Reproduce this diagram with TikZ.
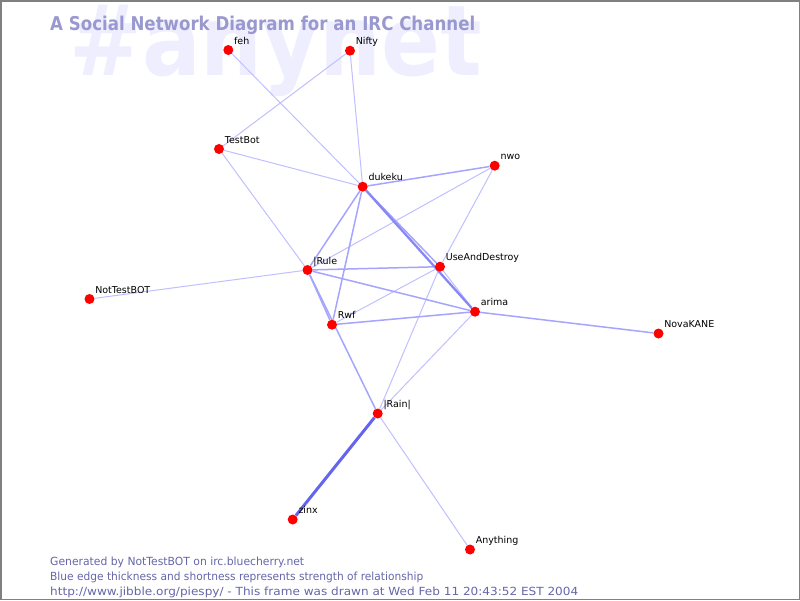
\documentclass[tikz,border=0pt]{standalone}
\usepackage{fontspec}
\setmainfont{DejaVu Sans}
\usepackage{graphicx}
\usetikzlibrary{backgrounds}
\definecolor{wm}{RGB}{238,238,255}
\definecolor{titlec}{RGB}{153,153,208}
\definecolor{footc}{RGB}{102,102,170}
\definecolor{edgeL}{RGB}{192,192,255}
\definecolor{edgeM}{RGB}{165,165,255}
\definecolor{edgeT}{RGB}{135,135,245}
\definecolor{edgeZ}{RGB}{100,100,238}
\definecolor{framec}{RGB}{128,128,128}
\tikzset{
  dot/.style={circle, fill=red, draw=none, minimum size=10pt, inner sep=0pt},
  lbl/.style={anchor=base west, inner sep=0pt, font=\fontsize{9.5}{11}\selectfont, text=black},
  txt/.style={anchor=base west, inner sep=0pt},
  eL/.style={draw=edgeL, line width=1pt},
  eM/.style={draw=edgeM, line width=1.5pt},
  eT/.style={draw=edgeT, line width=2.3pt},
  eZ/.style={draw=edgeZ, line width=3pt},
}
\newcommand{\nlab}[3]{\node[lbl] (#1-l) at ([shift={(5.6,-5.8)}]#2.center) {#3};}
\begin{document}
\begin{tikzpicture}[x=1pt,y=-1pt]
\useasboundingbox (0,0) rectangle (800,600);
% nodes
\node[dot] (feh) at (228.3,50) {};
\node[dot] (nifty) at (350,50.7) {};
\node[dot] (testbot) at (219,149) {};
\node[dot] (dukeku) at (362.7,186.7) {};
\node[dot] (nwo) at (494.7,165.7) {};
\node[dot] (rule) at (307.5,270) {};
\node[dot] (uad) at (440,266.7) {};
\node[dot] (ntb) at (89.5,299) {};
\node[dot] (arima) at (475,311.7) {};
\node[dot] (rwf) at (332,324.7) {};
\node[dot] (nova) at (658.5,333.5) {};
\node[dot] (rain) at (377.7,413.5) {};
\node[dot] (zinx) at (292.7,519.5) {};
\node[dot] (anything) at (470,549.5) {};
% labels
\nlab{feh}{feh}{feh}
\nlab{nifty}{nifty}{Nifty}
\nlab{testbot}{testbot}{TestBot}
\nlab{dukeku}{dukeku}{dukeku}
\nlab{nwo}{nwo}{nwo}
\nlab{rule}{rule}{|Rule}
\nlab{uad}{uad}{UseAndDestroy}
\nlab{ntb}{ntb}{NotTestBOT}
\nlab{arima}{arima}{arima}
\nlab{rwf}{rwf}{Rwf}
\nlab{nova}{nova}{NovaKANE}
\nlab{rain}{rain}{|Rain|}
\nlab{zinx}{zinx}{zinx}
\nlab{anything}{anything}{Anything}
% title and footer
\node[txt, text=titlec] (title) at (50,30) {\resizebox{425pt}{\height}{\fontsize{19}{22}\selectfont\bfseries A Social Network Diagram for an IRC Channel}};
\node[txt, text=footc] (f1) at (50,565) {\resizebox{254pt}{\height}{\fontsize{11.2}{13}\selectfont Generated by NotTestBOT on irc.bluecherry.net}};
\node[txt, text=footc] (f2) at (50,580) {\resizebox{373pt}{\height}{\fontsize{11.2}{13}\selectfont Blue edge thickness and shortness represents strength of relationship}};
\node[txt, text=footc] (f3) at (50,595) {\resizebox{528pt}{\height}{\fontsize{11.2}{13}\selectfont http://www.jibble.org/piespy/ - This frame was drawn at Wed Feb 11 20:43:52 EST 2004}};
\begin{scope}[on background layer]
\fill[white] (0,0) rectangle (800,600);
\node[txt, text=wm] (watermark) at (69,75) {\resizebox{413pt}{\height}{\fontsize{98}{100}\selectfont\bfseries \#anynet}};
\path[eL] (feh) -- (dukeku);
\path[eL] (nifty) -- (testbot);
\path[eL] (nifty) -- (dukeku);
\path[eL] (testbot) -- (dukeku);
\path[eL] (testbot) -- (rule);
\path[eL] (nwo) -- (rule);
\path[eL] (nwo) -- (uad);
\path[eL] (rule) -- (ntb);
\path[eL] (rwf) -- (uad);
\path[eL] (uad) -- (arima);
\path[eL] (rain) -- (uad);
\path[eL] (rain) -- (anything);
\path[eL] (rain) -- (arima);
\path[eM] (dukeku) -- (nwo);
\path[eM] (dukeku) -- (rule);
\path[eM] (dukeku) -- (rwf);
\path[eM] (dukeku) -- (uad);
\path[eM] (rule) -- (uad);
\path[eM] (rule) -- (arima);
\path[eM] (rule) -- (rwf);
\path[eM] (rule) -- (rain);
\path[eM] (rwf) -- (arima);
\path[eM] (arima) -- (nova);
\path[eT] (dukeku) -- (arima);
\path[eZ] (rain) -- (zinx);
\end{scope}
\draw[framec, line width=1.5pt] (0.75,0.75) rectangle (799.25,599.25);
\end{tikzpicture}
\end{document}
